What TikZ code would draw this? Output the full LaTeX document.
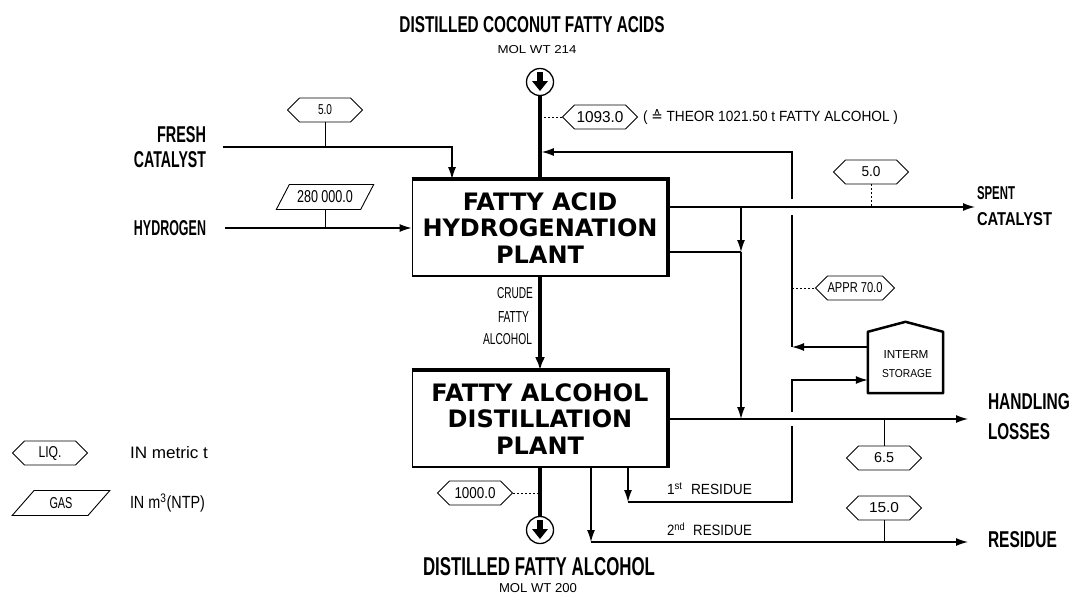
\documentclass[tikz,border=0pt]{standalone}
\usepackage{graphicx}
\usepackage{fontspec}
\setmainfont{Liberation Sans}
\newfontfamily\boxfont{DejaVu Sans}
\newfontfamily\dvs{DejaVu Sans}
\usetikzlibrary{arrows.meta,shapes.symbols,shapes.geometric,calc}
\newcommand\fit[3]{\resizebox{#1pt}{#2pt}{#3}}
\newcommand\fitb[3]{\resizebox{#1pt}{#2pt}{\bfseries #3}}
\tikzset{
 lab/.style={inner sep=0pt, outer sep=0pt},
 plant/.style={draw, line width=1.8pt, minimum width=255pt, minimum height=96pt, inner sep=0pt, align=center, font=\boxfont\bfseries\fontsize{24}{26.5}\selectfont},
 liq/.style={draw, line width=0.9pt, shape=signal, signal to=east and west, signal pointer angle=90, minimum width=75pt, minimum height=24pt, inner sep=0pt},
 gas/.style={draw, line width=0.9pt, trapezium, trapezium left angle=50, trapezium right angle=130, trapezium stretches=true, minimum width=98pt, minimum height=25pt, inner sep=0pt},
 conn/.style={line width=1.3pt},
 flow/.style={conn, -{Latex[length=12pt,width=8pt]}},
 mainline/.style={line width=3.5pt},
 tick/.style={line width=0.8pt},
 dtick/.style={line width=0.8pt, dash pattern=on 2pt off 2pt},
 endpoint/.style={circle, draw, line width=1.3pt, minimum size=27pt, inner sep=0pt},
}
\begin{document}
\begin{tikzpicture}[x=1pt,y=-1pt]
\useasboundingbox (0,0) rectangle (1071,597);

% ---------- main nodes
\node[plant] (h) at (540,228) {FATTY ACID\\HYDROGENATION\\PLANT};
\node[plant] (d) at (540,419) {FATTY ALCOHOL\\DISTILLATION\\PLANT};
\node[minimum width=75pt, minimum height=61pt, inner sep=0pt] (st) at (905.5,362.5) {};
\node[endpoint] (src) at (540,82) {};
\node[endpoint] (prod) at (540,530) {};
\foreach \c in {src,prod}{
  \fill ($(\c.center)+(-2.6,-10)$) rectangle ($(\c.center)+(2.6,0)$);
  \fill ($(\c.center)+(-8,-1)$) -- ($(\c.center)+(8,-1)$) -- ($(\c.center)+(0,9)$) -- cycle;
}

% ---------- top feed
\node[lab] (t1) at (532,25) {\fitb{265}{16}{DISTILLED COCONUT FATTY ACIDS}};
\node[lab] (t2) at (537,50) {\fit{79}{8}{MOL WT 214}};
\draw[mainline] (src.south) -- (h.north);
\node[liq] (q1) at (600,117) {\fit{47}{11}{1093.0}};
\draw[dtick] (540,117) -- (q1.west);
\node[lab, anchor=west] (q1t) at (643,117) {\fit{255}{12}{( {\dvs ≙} THEOR 1021.50 t FATTY ALCOHOL )}};

% ---------- fresh catalyst
\node[lab, anchor=east] (fr1) at (206,135) {\fitb{49}{16}{FRESH}};
\node[lab, anchor=east] (fr2) at (206,160) {\fitb{72}{16}{CATALYST}};
\coordinate (fcs) at (223,147);
\coordinate (fcd) at (452,147);
\draw[flow] (fcs) -- (fcd) -- (fcd |- h.north);
\node[liq] (q2) at (325,110) {\fit{14}{10}{5.0}};
\draw[tick] (q2.south) -- (q2.south |- fcs);

% ---------- hydrogen
\node[lab, anchor=east] (hy) at (206,228) {\fitb{72}{15}{HYDROGEN}};
\coordinate (hys) at (225,228);
\draw[flow] (hys) -- (h.west);
\node[gas] (g1) at (325,197) {\fit{56}{12}{280 000.0}};
\draw[tick] (g1.south) -- (g1.south |- hys);

% ---------- spent catalyst / bypass
\coordinate (j1) at (741,207);
\coordinate (j2) at (741,252);
\coordinate (j3) at (741,419);
\coordinate (spe) at (975,207);
\draw[flow] (h.east |- j1) -- (spe);
\draw[conn] (h.east |- j2) -- (j2);
\draw[flow] (j1) -- (j2);
\draw[flow] (j2) -- (j3);
\node[lab, anchor=west] (sp1) at (977,193) {\fitb{38}{13}{SPENT}};
\node[lab, anchor=west] (sp2) at (977,219) {\fitb{75}{13}{CATALYST}};
\node[liq] (q3) at (871,172) {\fit{19}{10}{5.0}};
\draw[dtick] (q3.south) -- (q3.south |- spe);

% ---------- recycle from storage
\coordinate (r1) at (792,347);
\coordinate (r2) at (792,152);
\draw[flow] (st.west |- r1) -- (r1);
\draw[conn] (r1) -- (792,215);
\draw[flow, shorten >=1.75pt] (792,199) -- (r2) -- (h.north |- r2);
\node[liq] (q4) at (855,288) {\fit{55}{10}{APPR 70.0}};
\draw[dtick] (792,288) -- (q4.west);

% ---------- storage
\draw[line width=2.5pt, line join=round] (st.south west) -- (st.north west) -- ($(st.north)+(0,-10)$) -- (st.north east) -- (st.south east) -- cycle;
\node[lab] (st1) at (906,354) {\fit{45}{8}{INTERM}};
\node[lab] (st2) at (907,374) {\fit{50}{8}{STORAGE}};

% ---------- crude fatty alcohol
\draw[mainline, -{Latex[length=13pt,width=10pt]}] (h.south) -- (d.north);
\node[lab, anchor=east] (c1) at (533,293) {\fit{36}{11}{CRUDE}};
\node[lab, anchor=east] (c2) at (529,317) {\fit{31}{11}{FATTY}};
\node[lab, anchor=east] (c3) at (532,339) {\fit{49}{11}{ALCOHOL}};

% ---------- handling losses
\coordinate (hl) at (968,419);
\draw[flow] (d.east |- j3) -- (hl);
\node[lab, anchor=west] (hl1) at (988,402) {\fitb{82}{16}{HANDLING}};
\node[lab, anchor=west] (hl2) at (988,432) {\fitb{62}{16}{LOSSES}};
\node[liq] (q5) at (884,458) {\fit{20}{10}{6.5}};
\draw[tick] (q5.north |- j3) -- (q5.north);

% ---------- 1st residue
\coordinate (a1) at (628,502);
\coordinate (a2) at (792,502);
\coordinate (si) at (792,380);
\draw[flow] (d.south -| a1) -- (a1);
\draw[conn] (a1) -- (a2) -- (792,426);
\draw[flow] (792,412) -- (si) -- (st.west |- si);
\node[lab] (res1) at (709.5,489) {\fit{85}{12}{1\textsuperscript{st}\hspace{0.6em}RESIDUE}};

% ---------- 2nd residue
\coordinate (b1) at (591,542);
\coordinate (rs) at (968,542);
\draw[flow] (d.south -| b1) -- (b1);
\draw[flow] (b1) -- (rs);
\node[lab] (res2) at (709.5,529) {\fit{85}{13}{2\textsuperscript{nd}\hspace{0.6em}RESIDUE}};
\node[lab, anchor=west] (res3) at (988,540) {\fitb{69}{16}{RESIDUE}};
\node[liq] (q6) at (884,508) {\fit{30}{10}{15.0}};
\draw[tick] (q6.south) -- (q6.south |- rs);

% ---------- product
\draw[mainline] (d.south) -- (prod.north);
\node[liq] (q7) at (475,493) {\fit{41}{11}{1000.0}};
\draw[dtick] (q7.east) -- (540,493);
\node[lab] (p1) at (539,567) {\fitb{232}{18}{DISTILLED FATTY ALCOHOL}};
\node[lab] (p2) at (538,588) {\fit{78}{9}{MOL WT 200}};

% ---------- legend
\node[liq] (lq) at (50,453) {\fit{23}{11}{LIQ.}};
\node[lab, anchor=west] (lqt) at (130,453) {\fit{78}{12}{IN metric t}};
\node[gas] (lg) at (61,503) {\fit{23}{11}{GAS}};
\node[lab, anchor=west] (lgt) at (130,503) {\fit{75}{15}{IN m\textsuperscript{3}(NTP)}};

% ---------- heavy box edges
\foreach \b in {h,d}{
  \draw[line width=4pt] (\b.north west) -- (\b.north east) -- (\b.south east);
}
\end{tikzpicture}
\end{document}
